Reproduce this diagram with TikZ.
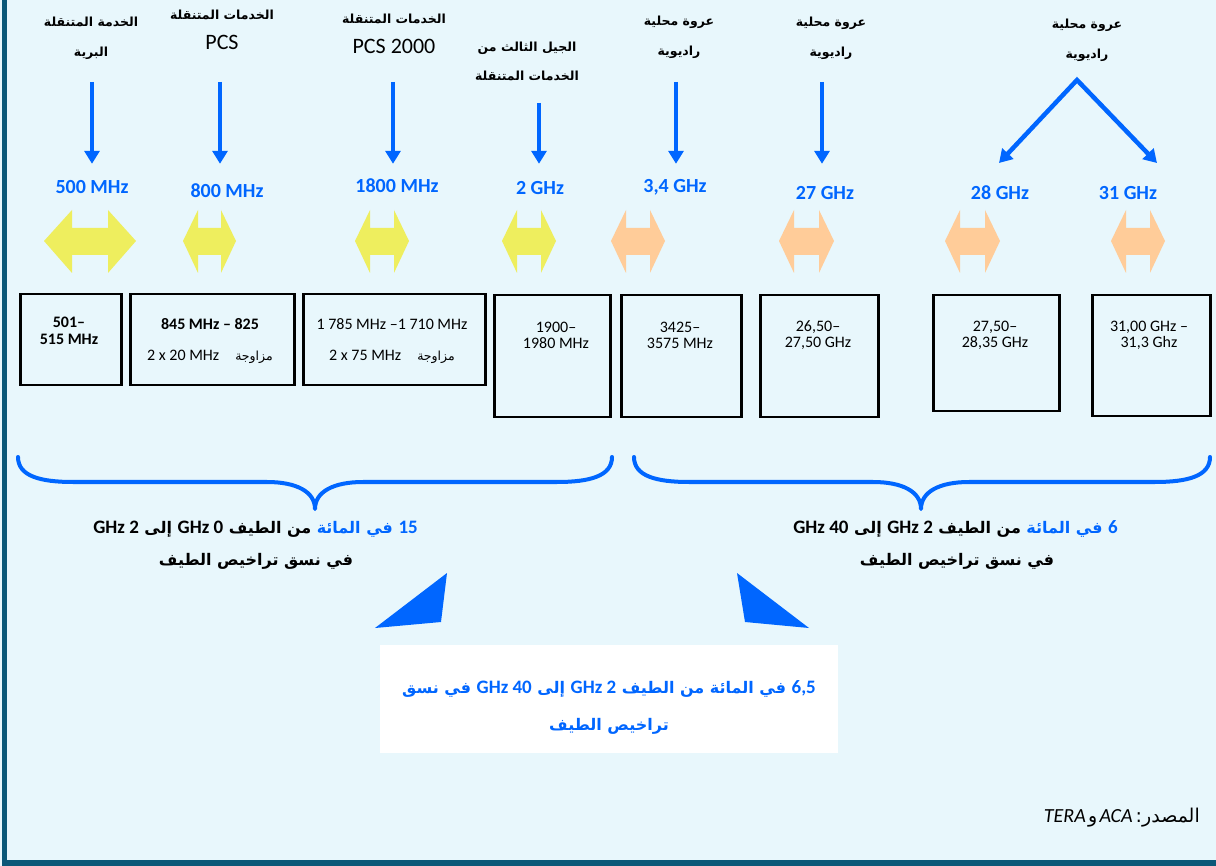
\documentclass[tikz,border=0pt]{standalone}
\usepackage{fontspec}
\setmainfont{Carlito}
\newfontfamily\ar[Script=Arabic]{DejaVu Sans}
\TeXXeTstate=1
\usetikzlibrary{arrows.meta,positioning}
\definecolor{pagebg}{RGB}{232,247,252}
\definecolor{framec}{RGB}{11,88,120}
\definecolor{linkblue}{RGB}{0,102,255}
\definecolor{bandyellow}{RGB}{238,238,94}
\definecolor{bandpeach}{RGB}{255,204,153}
\newcommand{\lat}[1]{{\rmfamily\fontsize{19}{30}\selectfont #1}}
\newcommand{\bandarrow}[4]{\fill[#1] (#2,241) -- (#2+#4,210) -- (#2+#4,228) -- (#3-#4,228) -- (#3-#4,210) -- (#3,241) -- (#3-#4,273) -- (#3-#4,255) -- (#2+#4,255) -- (#2+#4,273) -- cycle;}
\newcommand{\spanbrace}[3]{\draw[spanline] (#1,457) .. controls (#1,476) and (#1+22,482) .. (#1+55,482) -- (#2-48,482) .. controls (#2-18,482) and (#2,492) .. (#2,509) .. controls (#2,492) and (#2+18,482) .. (#2+48,482) -- (#3-55,482) .. controls (#3-22,482) and (#3,476) .. (#3,457);}
\tikzset{
  toplab/.style={align=center, inner sep=0pt, font=\ar\bfseries\fontsize{12.5}{30}\selectfont},
  freq/.style={inner sep=0pt, text height=13pt, text depth=0pt, text=linkblue, font=\bfseries\fontsize{20}{24}\selectfont},
  feed/.style={draw=linkblue, line width=4.5pt, -{Triangle[width=15pt,length=13pt]}},
  bandbox/.style={draw, line width=2.5pt, anchor=north west, inner sep=0pt},
  bandtxt/.style={align=center, inner sep=0pt, font=\fontsize{16}{16}\selectfont},
  spanline/.style={draw=linkblue, line width=4pt, line cap=round, line join=round},
  share/.style={inner sep=0pt, font=\ar\bfseries\fontsize{16}{34}\selectfont},
  notebox/.style={fill=white, minimum width=458pt, minimum height=108pt},
  note/.style={align=center, inner sep=0pt, text=linkblue, font=\ar\bfseries\fontsize{16}{37}\selectfont},
  pointer/.style={fill=linkblue}
}
\begin{document}
\begin{tikzpicture}[x=1pt,y=-1pt]
\useasboundingbox (0,0) rectangle (1216,866);
\fill[pagebg] (0,0) rectangle (1216,866);
\fill[framec] (2,0) rectangle (7,866);
\fill[framec] (2,860) rectangle (1216,866);
\node[toplab] (lab1) at (91,38) {\beginR الخدمة المتنقلة\endR\\\beginR البرية\endR};
\node[toplab] (lab2) at (222,30) {\beginR الخدمات المتنقلة\endR\\{\rmfamily\mdseries\fontsize{22}{30}\selectfont PCS}};
\node[toplab] (lab3) at (394,34) {\beginR الخدمات المتنقلة\endR\\{\rmfamily\mdseries\fontsize{22}{30}\selectfont PCS 2000}};
\node[toplab, font=\ar\bfseries\fontsize{12.5}{29}\selectfont] (lab4) at (527,61) {\beginR الجيل الثالث من\endR\\\beginR الخدمات المتنقلة\endR};
\node[toplab] (lab5) at (679,37) {\beginR عروة محلية\endR\\\beginR راديوية\endR};
\node[toplab] (lab6) at (831,38) {\beginR عروة محلية\endR\\\beginR راديوية\endR};
\node[toplab] (lab7) at (1087,40) {\beginR عروة محلية\endR\\\beginR راديوية\endR};
\node[freq] (f1) at (92,187) {500 MHz};
\node[freq] (f2) at (227,191) {800 MHz};
\node[freq] (f3) at (397,186) {1800 MHz};
\node[freq] (f4) at (540,188) {2 GHz};
\node[freq] (f5) at (675,186) {3,4 GHz};
\node[freq] (f6) at (825,193) {27 GHz};
\node[freq] (f7) at (1000,193) {28 GHz};
\node[freq] (f8) at (1128,193) {31 GHz};
\coordinate (s1) at (92,82);
\coordinate (s2) at (220,82);
\coordinate (s3) at (393,82);
\coordinate (s4) at (539,103);
\coordinate (s5) at (676,82);
\coordinate (s6) at (822,82);
\coordinate (split) at (1077,80);
\coordinate (to28) at (999,163);
\coordinate (to31) at (1157,163);
\draw[feed, shorten >=16.5pt] (s1) -- (s1 |- f1.north);
\draw[feed, shorten >=20.5pt] (s2) -- (s2 |- f2.north);
\draw[feed, shorten >=15.5pt] (s3) -- (s3 |- f3.north);
\draw[feed, shorten >=17.5pt] (s4) -- (s4 |- f4.north);
\draw[feed, shorten >=15.5pt] (s5) -- (s5 |- f5.north);
\draw[feed, shorten >=22.5pt] (s6) -- (s6 |- f6.north);
\draw[feed, {Triangle[width=15pt,length=13pt]}-{Triangle[width=15pt,length=13pt]}] (to28) -- (split) -- (to31);
\bandarrow{bandyellow}{44}{136}{28}
\bandarrow{bandyellow}{183}{236}{15}
\bandarrow{bandyellow}{355}{409}{15}
\bandarrow{bandyellow}{502}{556}{15}
\bandarrow{bandpeach}{611}{665}{15}
\bandarrow{bandpeach}{779}{834}{15}
\bandarrow{bandpeach}{945}{1000}{15}
\bandarrow{bandpeach}{1111}{1165}{15}
\node[bandbox, minimum width=101pt, minimum height=91pt] (r1) at (19,293) {};
\node[bandbox, minimum width=164pt, minimum height=91pt] (r2) at (129,293) {};
\node[bandbox, minimum width=182pt, minimum height=91pt] (r3) at (302,293) {};
\node[bandbox, minimum width=116pt, minimum height=122pt] (r4) at (493,294) {};
\node[bandbox, minimum width=120pt, minimum height=122pt] (r5) at (620,294) {};
\node[bandbox, minimum width=118pt, minimum height=122pt] (r6) at (759,294) {};
\node[bandbox, minimum width=126pt, minimum height=116pt] (r7) at (932,294) {};
\node[bandbox, minimum width=118pt, minimum height=121pt] (r8) at (1091,294) {};
\node[bandtxt, font=\bfseries\fontsize{16}{17}\selectfont] (t1) at (69,331) {501--\\515 MHz};
\node[bandtxt, font=\fontsize{16}{31}\selectfont] (t2) at (210,341) {\textbf{845 MHz -- 825}\\2 x 20 MHz\quad{\ar\fontsize{12.5}{12}\selectfont\beginR مزاوجة\endR}};
\node[bandtxt, font=\fontsize{16}{31}\selectfont] (t3) at (392,341) {1 785 MHz --1 710 MHz\\2 x 75 MHz\quad{\ar\fontsize{12.5}{12}\selectfont\beginR مزاوجة\endR}};
\node[bandtxt] (t4) at (556,335) {1900--\\1980 MHz};
\node[bandtxt] (t5) at (680,335) {3425--\\3575 MHz};
\node[bandtxt] (t6) at (818,335) {26,50--\\27,50 GHz};
\node[bandtxt] (t7) at (995,335) {27,50--\\28,35 GHz};
\node[bandtxt] (t8) at (1149,335) {31,00 GHz --\\31,3 Ghz};
\spanbrace{18}{315}{612}
\spanbrace{634}{921}{1210}
\node[share, text=linkblue, anchor=base east] (p1) at (418,533) {\beginR\lat{15} في المائة\endR};
\node[share, base left=5pt of p1] (q1) {\beginR من الطيف \lat{0 GHz} إلى \lat{2 GHz}\endR};
\node[share] (w1) at (256,561) {\beginR في نسق تراخيص الطيف\endR};
\node[share, text=linkblue, anchor=base east] (p2) at (1118,533) {\beginR\lat{6} في المائة\endR};
\node[share, base left=5pt of p2] (q2) {\beginR من الطيف \lat{2 GHz} إلى \lat{40 GHz}\endR};
\node[share] (w2) at (957,561) {\beginR في نسق تراخيص الطيف\endR};
\fill[pointer] (375,628) -- (447,573) -- (441,622) -- cycle;
\fill[pointer] (809,628) -- (737,573) -- (745,622) -- cycle;
\node[notebox] (sumbox) at (609,699) {};
\node[note] (sum) at (609,707) {\beginR\lat{6,5} في المائة من الطيف \lat{2 GHz} إلى \lat{40 GHz} في نسق\endR\\\beginR تراخيص الطيف\endR};
\node[inner sep=0pt, anchor=east] (src) at (1200,818) {\beginR{\ar\fontsize{19}{21}\selectfont المصدر:} {\itshape\fontsize{20}{20}\selectfont ACA} {\ar\fontsize{19}{21}\selectfont و} {\itshape\fontsize{20}{20}\selectfont TERA}\endR};
\end{tikzpicture}
\end{document}
